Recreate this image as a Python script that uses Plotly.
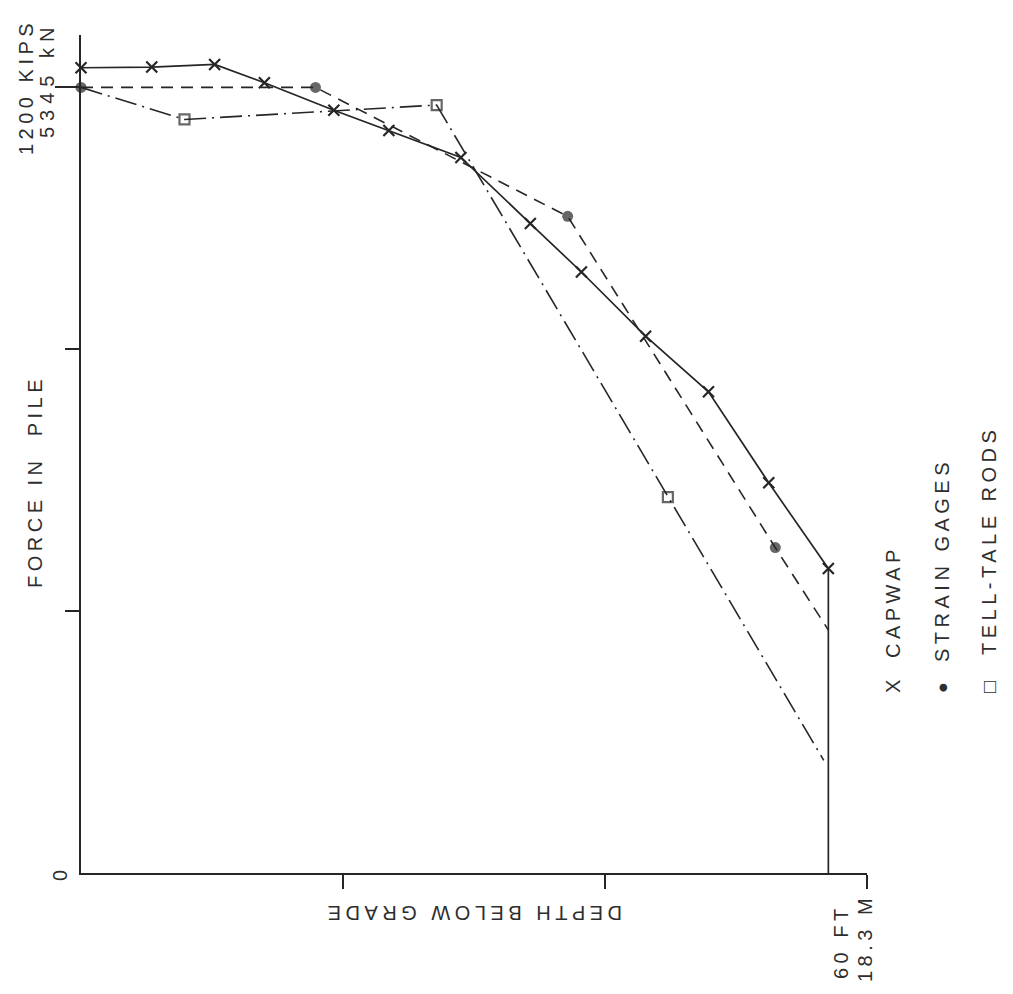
import plotly.graph_objects as go

# ---- data (depth in ft, force in kips) ----
capwap_depth = [0.0, 5.4, 10.2, 14.0, 19.3, 23.5, 29.0, 34.3, 38.2, 43.1, 47.9, 52.5, 57.05]
capwap_force = [1230, 1231, 1235, 1207, 1165, 1134, 1093, 992, 918, 820, 735, 596, 465]

gage_depth = [0.0, 17.9, 37.15, 53.0, 57.05]
gage_force = [1200, 1200, 1003, 497, 371]
gage_marked = [True, True, True, True, False]

rod_depth = [0.0, 7.9, 27.15, 44.8, 56.7]
rod_force = [1200, 1151, 1173, 574, 172]
rod_marked = [False, True, True, True, False]

pile_tip_depth = 57.05
pile_tip_force_top = 465

y_ticks_major = [1200]
y_ticks_minor = [400, 800]
x_ticks = [20, 40, 60]

INK = "#262626"
TXT = "#2e2e2e"
FONT = "Liberation Sans, Arial, sans-serif"

W, H = 1013, 994
L, R, T, B = 81, 146, 35, 121
X_RANGE = [0, 60]
Y_RANGE = [0, 1280]

fig = go.Figure()

# pile tip line
fig.add_trace(go.Scatter(x=[pile_tip_depth, pile_tip_depth], y=[0, pile_tip_force_top],
                         mode="lines", line=dict(color=INK, width=1.7),
                         hoverinfo="skip", showlegend=False, cliponaxis=False))

# tell-tale rods (dash-dot)
fig.add_trace(go.Scatter(x=rod_depth, y=rod_force, mode="lines+markers",
                         line=dict(color=INK, width=1.6, dash="22px,6px,2px,6px"),
                         marker=dict(symbol="square-open", size=[10 if m else 0 for m in rod_marked],
                                     color=INK, line=dict(width=2.2, color=INK)),
                         showlegend=False, cliponaxis=False, name="TELL-TALE RODS"))

# strain gages (dashed)
fig.add_trace(go.Scatter(x=gage_depth, y=gage_force, mode="lines+markers",
                         line=dict(color=INK, width=1.6, dash="12px,8px"),
                         marker=dict(symbol="circle", size=[11 if m else 0 for m in gage_marked],
                                     color=INK, line=dict(width=0)),
                         showlegend=False, cliponaxis=False, name="STRAIN GAGES"))

# CAPWAP (solid with x)
fig.add_trace(go.Scatter(x=capwap_depth, y=capwap_force, mode="lines+markers",
                         line=dict(color=INK, width=1.7),
                         marker=dict(symbol="x-thin-open", size=11, color=INK,
                                     line=dict(width=2.2, color=INK)),
                         showlegend=False, cliponaxis=False, name="CAPWAP"))


def px2paper(px, py):
    return (px - L) / (W - L - R), (H - B - py) / (H - T - B)


def lab(text, px, py, angle, size=20, spacing=4.5, family=FONT):
    x, y = px2paper(px, py)
    return dict(text=f'<span style="letter-spacing:{spacing}px">{text}</span>',
                x=x, y=y, xref="paper", yref="paper", showarrow=False,
                textangle=angle, xanchor="center", yanchor="middle",
                font=dict(family=family, size=size, color=TXT))


annotations = [
    lab("1200 KIPS", 26, 87, -90),
    lab("5345 kN", 47, 80, -90, spacing=6),
    lab("FORCE IN  PILE", 35, 482, -90),
    lab("0", 60, 873, -90),
    lab("DEPTH BELOW GRADE", 473, 913, 180),
    lab("60 FT", 841, 942, -90),
    lab("18.3 M", 865, 938, -90),
    lab("X", 893, 687, -90, spacing=0),
    lab("CAPWAP", 893, 602, -90),
    lab("●", 942, 688, -90, size=10, spacing=0, family="DejaVu Sans"),
    lab("STRAIN GAGES", 942, 560, -90),
    lab("□", 989, 687, -90, size=20, spacing=0),
    lab("TELL-TALE RODS", 989, 541, -90),
]

fig.update_layout(
    width=W, height=H,
    margin=dict(l=L, r=R, t=T, b=B, pad=0),
    paper_bgcolor="white", plot_bgcolor="white",
    showlegend=False,
    annotations=annotations,
    xaxis=dict(range=X_RANGE, showgrid=False, zeroline=False, showline=True,
               linecolor=INK, linewidth=1.9, ticks="outside", tickvals=x_ticks,
               ticklen=14, tickwidth=1.7, tickcolor=INK, showticklabels=False),
    yaxis=dict(range=Y_RANGE, showgrid=False, zeroline=False, showline=True,
               linecolor=INK, linewidth=1.9, ticks="outside", tickvals=y_ticks_major,
               ticklen=24, tickwidth=1.9, tickcolor=INK, showticklabels=False,
               minor=dict(tickvals=y_ticks_minor, ticks="outside", ticklen=14,
                          tickwidth=1.7, tickcolor=INK, showgrid=False)),
)

fig.write_html("out.html")
